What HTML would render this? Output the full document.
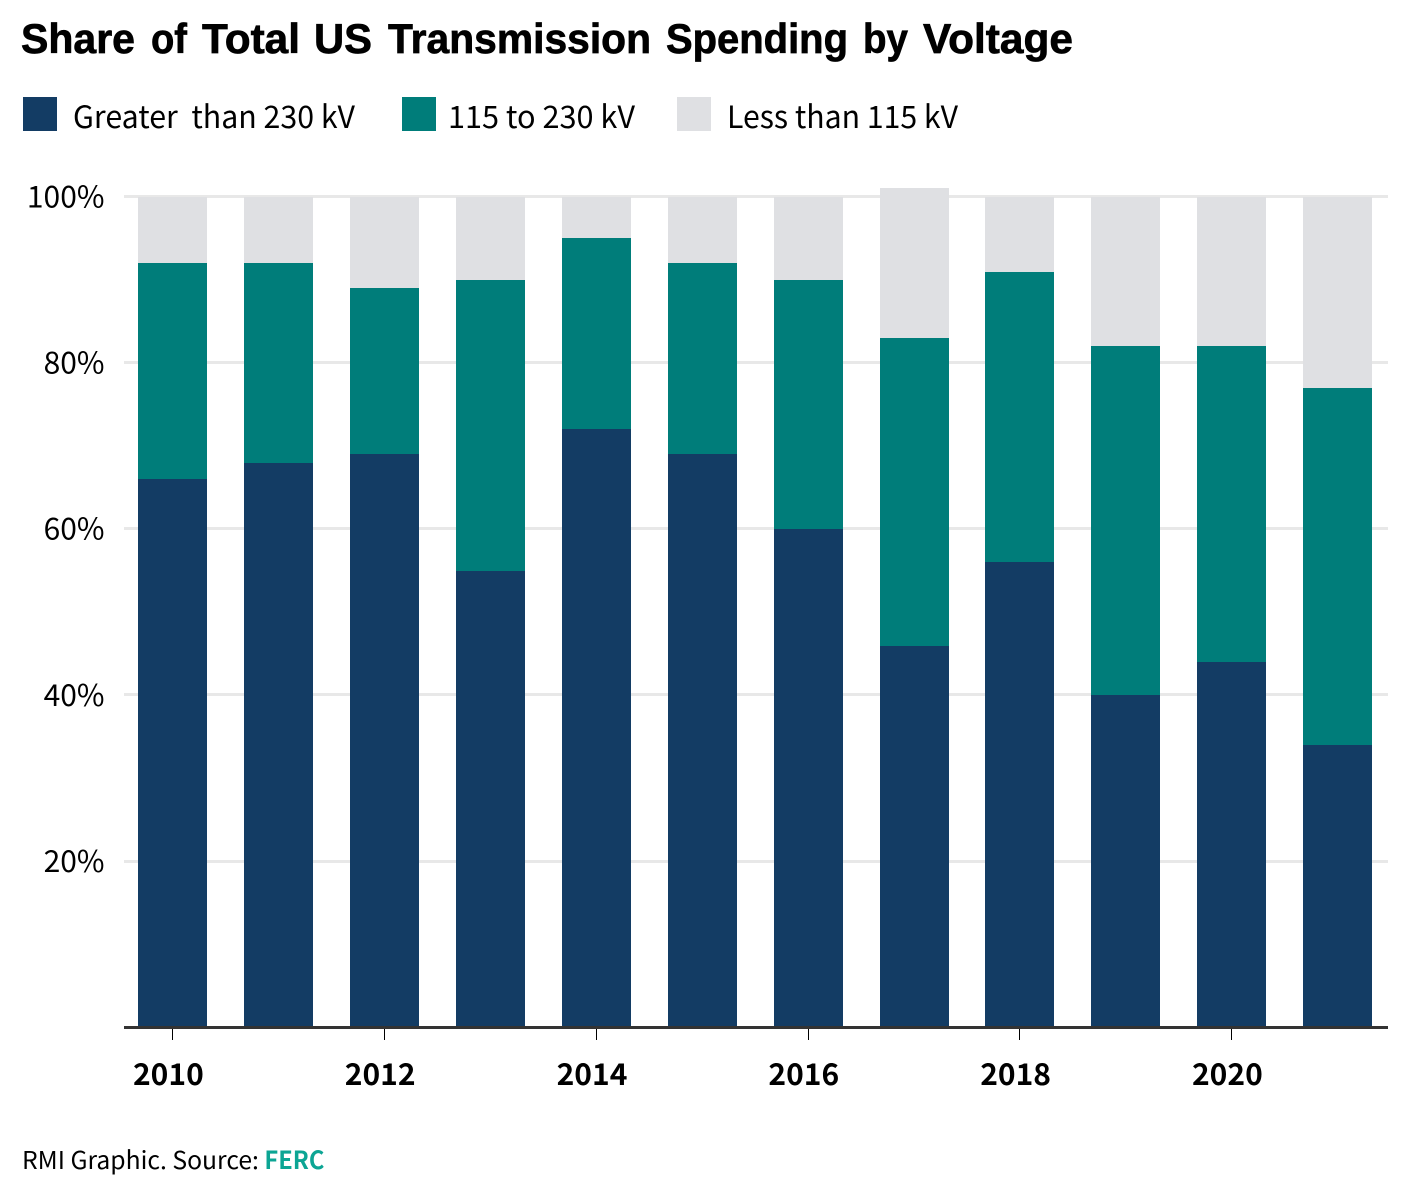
<!DOCTYPE html>
<html lang="en">
<head>
<meta charset="utf-8">
<title>Share of Total US Transmission Spending by Voltage</title>
<style>
html,body{margin:0;padding:0;background:#fff;}
body{width:1418px;height:1186px;overflow:hidden;position:relative;}
svg{position:absolute;left:0;top:0;display:block;}
text{font-family:"Noto Sans CJK SC","Liberation Sans",sans-serif;fill:#000;}
</style>
</head>
<body>
<svg id="chart" width="1418" height="1186" viewBox="0 0 1418 1186" xmlns="http://www.w3.org/2000/svg">
  <text y="53" style="font-family:'Liberation Sans',sans-serif;font-weight:700;font-size:42px;stroke:#000;stroke-width:0.7px"><tspan x="21" textLength="114" lengthAdjust="spacingAndGlyphs">Share</tspan> <tspan x="151" textLength="36" lengthAdjust="spacingAndGlyphs">of</tspan> <tspan x="202" textLength="98" lengthAdjust="spacingAndGlyphs">Total</tspan> <tspan x="314" textLength="58" lengthAdjust="spacingAndGlyphs">US</tspan> <tspan x="388" textLength="263" lengthAdjust="spacingAndGlyphs">Transmission</tspan> <tspan x="666" textLength="182" lengthAdjust="spacingAndGlyphs">Spending</tspan> <tspan x="863" textLength="45" lengthAdjust="spacingAndGlyphs">by</tspan> <tspan x="923" textLength="150" lengthAdjust="spacingAndGlyphs">Voltage</tspan></text>

  <g>
    <g>
      <rect x="23" y="97" width="34" height="34" fill="#133c64"></rect>
      <text x="73" y="128" font-size="31" textLength="282" lengthAdjust="spacingAndGlyphs" xml:space="preserve">Greater  than 230 kV</text>
    </g>
    <g>
      <rect x="402" y="97" width="34" height="34" fill="#007d7a"></rect>
      <text x="448" y="128" font-size="31" textLength="187" lengthAdjust="spacingAndGlyphs">115 to 230 kV</text>
    </g>
    <g>
      <rect x="677" y="97" width="34" height="34" fill="#dfe0e3"></rect>
      <text x="727" y="128" font-size="31" textLength="231" lengthAdjust="spacingAndGlyphs">Less than 115 kV</text>
    </g>
  </g>

  <g id="grid"></g>
  <g id="y-labels"></g>
  <g id="bars"></g>
  <g id="x-axis"></g>

  <text x="22" y="1169" font-size="24.7">RMI Graphic. Source: <tspan style="fill:#0ca594;font-weight:700" textLength="60" lengthAdjust="spacingAndGlyphs">FERC</tspan></text>
</svg>

<script>
const years = [2010, 2011, 2012, 2013, 2014, 2015, 2016, 2017, 2018, 2019, 2020, 2021];
const greaterThan230 = [66, 68, 69, 55, 72, 69, 60, 46, 56, 40, 44, 34];
const from115To230 = [26, 24, 20, 35, 23, 23, 30, 37, 35, 42, 38, 43];
const lessThan115 = [8, 8, 11, 10, 5, 8, 10, 18, 9, 18, 18, 23];
const yTicks = [20, 40, 60, 80, 100];

const NS = 'http://www.w3.org/2000/svg';
const plot = { left: 124, right: 1388, bottom: 1028.3, top: 197.3 };
const firstLeft = 138.2;
const step = 105.9;
const barWidth = 69;

function yScale(v) {
  return plot.bottom - (v / 100) * (plot.bottom - plot.top);
}
function xLeft(i) {
  return firstLeft + i * step;
}
function make(tag, parent, attrs) {
  const el = document.createElementNS(NS, tag);
  for (const k in attrs) el.setAttribute(k, attrs[k]);
  parent.appendChild(el);
  return el;
}

const gridG = document.getElementById('grid');
const yLabelG = document.getElementById('y-labels');
yTicks.forEach(function (t) {
  const line = make('rect', gridG, { x: plot.left, y: Math.floor(yScale(t) - 1.9), width: plot.right - plot.left, height: 3, fill: '#e8e8e8' });
  
  
  const label = make('text', yLabelG, { x: 104.5, y: yScale(t) + 10, 'font-size': 30, 'text-anchor': 'end' });
  label.textContent = t + '%';
  
  
});

const barsG = document.getElementById('bars');
const seriesList = [
  { key: 'greater-than-230kv', values: greaterThan230, color: '#133c64' },
  { key: '115-to-230kv', values: from115To230, color: '#007d7a' },
  { key: 'less-than-115kv', values: lessThan115, color: '#dfe0e3' }
];
years.forEach(function (year, i) {
  let base = 0;
  seriesList.forEach(function (s) {
    const top = base + s.values[i];
    const y0 = Math.floor(yScale(top));
    const y1 = Math.floor(yScale(base));
    const bar = make('rect', barsG, { x: Math.round(xLeft(i)), y: y0, width: barWidth, height: y1 - y0, fill: s.color });
    
    
    base = top;
  });
});

const xG = document.getElementById('x-axis');
const axisLine = make('rect', xG, { x: plot.left, y: 1026, width: plot.right - plot.left, height: 3, fill: '#333333' });


years.forEach(function (year, i) {
  if (i % 2 !== 0) return;
  const center = xLeft(i) + barWidth / 2;
  const tick = make('rect', xG, { x: Math.floor(center), y: 1029, width: 1, height: 11, fill: '#000' });
  
  
  const label = make('text', xG, { x: center - 4.3, y: 1085, 'font-size': 30, 'font-weight': 700, 'text-anchor': 'middle' });
  label.textContent = year;
  
  
});
</script>
</body>
</html>
